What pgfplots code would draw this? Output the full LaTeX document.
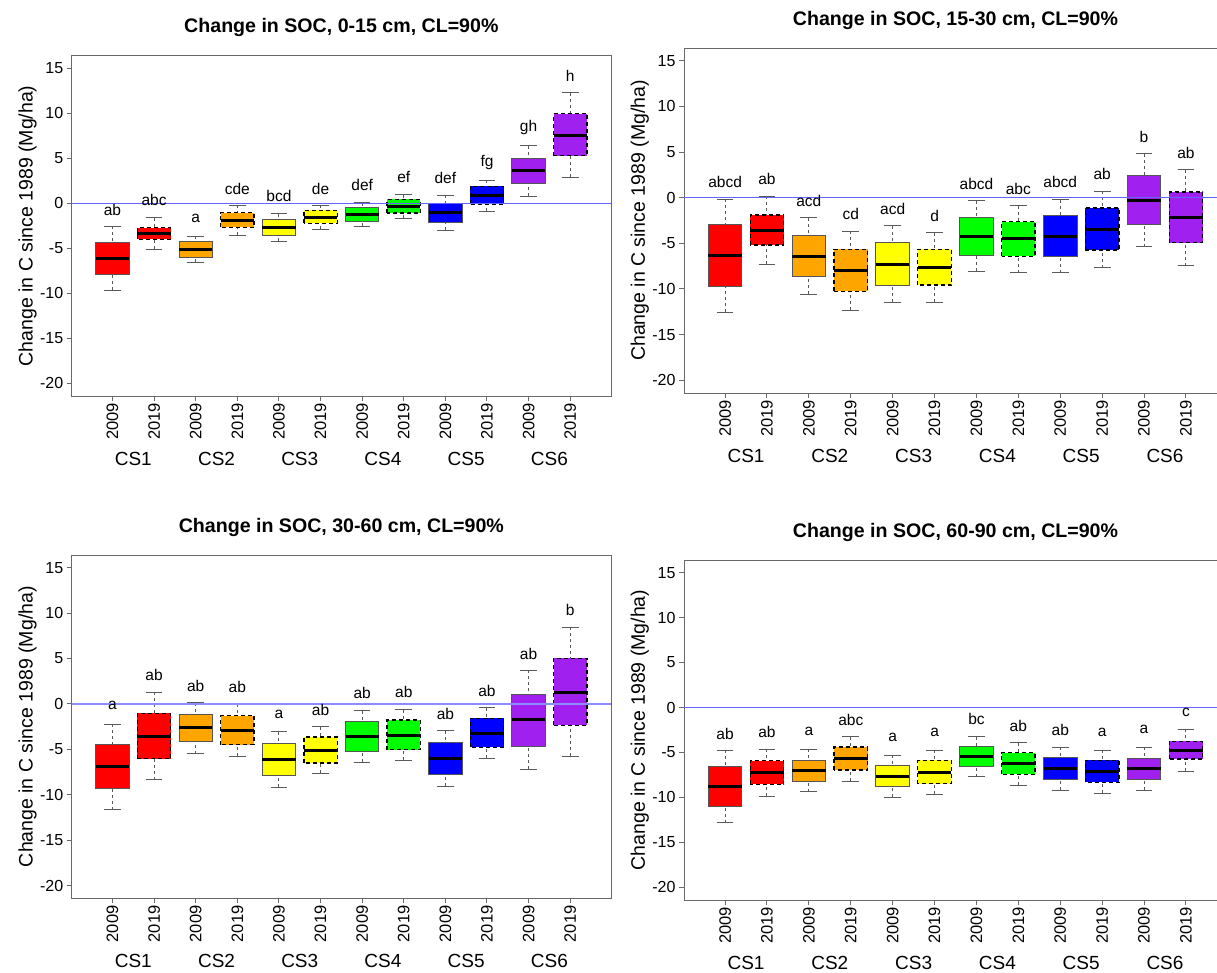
\documentclass[border=0pt]{standalone}
\usepackage{fontspec}
\setmainfont{Liberation Sans}
\usepackage{graphicx}
\usepackage{pgfplots}
\pgfplotsset{compat=1.18}
\usepgfplotslibrary{statistics}

\definecolor{cRed}{RGB}{255,0,0}
\definecolor{cOra}{RGB}{255,165,0}
\definecolor{cYel}{RGB}{255,255,0}
\definecolor{cGrn}{RGB}{0,255,0}
\definecolor{cBlu}{RGB}{0,0,255}
\definecolor{cPur}{RGB}{160,32,240}
\definecolor{frameg}{RGB}{105,105,105}
\definecolor{boxg}{RGB}{85,85,85}
\definecolor{whisk}{RGB}{90,90,90}
\definecolor{zeroline}{RGB}{100,100,255}
\definecolor{zerolineb}{RGB}{140,140,255}

\newcommand{\yr}[1]{\rotatebox{90}{#1}}

% solid (2009) box: pos, colour, lower whisker, lower quartile, median, upper quartile, upper whisker
\newcommand{\bxA}[7]{%
 \addplot[boxplot/every box/.style={fill=#2, draw=boxg, line width=1pt, solid},
   boxplot prepared={draw position=#1, lower whisker=#3, lower quartile=#4,
     median=#5, upper quartile=#6, upper whisker=#7, box extend=0.8, whisker extend=0.4}]
   coordinates {};}
% dashed (2019) box
\newcommand{\bxB}[7]{%
 \addplot[boxplot/every box/.style={fill=#2, draw=black, line width=1.3pt, dash pattern=on 4pt off 3pt},
   boxplot prepared={draw position=#1, lower whisker=#3, lower quartile=#4,
     median=#5, upper quartile=#6, upper whisker=#7, box extend=0.8, whisker extend=0.4}]
   coordinates {};}

\pgfplotsset{
 soc/.style={
  scale only axis, anchor=north west,
  xmin=0.02, xmax=12.98, ymin=-21.4, ymax=16.4,
  axis line style={frameg, line width=1pt},
  tick style={frameg, line width=1pt},
  tick align=outside, major tick length=5pt,
  xtick pos=left, ytick pos=left,
  xtick={1,...,12},
  xticklabels={\yr{2009},\yr{2019},\yr{2009},\yr{2019},\yr{2009},\yr{2019},\yr{2009},\yr{2019},\yr{2009},\yr{2019},\yr{2009},\yr{2019}},
  xticklabel style={font=\fontsize{16.5}{17}\selectfont, inner sep=2pt},
  ytick={-20,-15,...,15},
  yticklabel style={font=\fontsize{16}{17}\selectfont},
  /pgf/number format/assume math mode=true,
  extra x ticks={1.5,3.5,5.5,7.5,9.5,11.5},
  extra x tick labels={CS1,CS2,CS3,CS4,CS5,CS6},
  extra x tick style={major tick length=0pt, xticklabel style={font=\fontsize{19}{20}\selectfont, inner sep=0pt, yshift=-56pt}},
  ylabel={Change in C since 1989 (Mg/ha)},
  every axis y label/.style={at={(axis description cs:-0.0585,0.5)}, rotate=90, anchor=south, font=\fontsize{19.5}{21}\selectfont},
  every axis title/.style={at={(axis description cs:0.5,1)}, anchor=center, yshift=28pt, font=\bfseries\fontsize{19.6}{22}\selectfont},
  boxplot/draw direction=y,
  boxplot/every median/.style={draw=black, solid, line width=3pt},
  boxplot/draw/lower whisker/.code={%
    \draw[draw=whisk, line width=1pt, dash pattern=on 3pt off 3pt]
      (boxplot box cs:\pgfplotsboxplotvalue{lower whisker},0.5) -- (boxplot box cs:\pgfplotsboxplotvalue{lower quartile},0.5);
    \draw[draw=whisk, line width=1pt, solid]
      (boxplot whisker cs:\pgfplotsboxplotvalue{lower whisker},0) -- (boxplot whisker cs:\pgfplotsboxplotvalue{lower whisker},1);},
  boxplot/draw/upper whisker/.code={%
    \draw[draw=whisk, line width=1pt, dash pattern=on 3pt off 3pt]
      (boxplot box cs:\pgfplotsboxplotvalue{upper whisker},0.5) -- (boxplot box cs:\pgfplotsboxplotvalue{upper quartile},0.5);
    \draw[draw=whisk, line width=1pt, solid]
      (boxplot whisker cs:\pgfplotsboxplotvalue{upper whisker},0) -- (boxplot whisker cs:\pgfplotsboxplotvalue{upper whisker},1);},
 },
 letters/.style={draw=none, mark=none, nodes near coords, point meta=explicit symbolic,
   nodes near coords align=center,
   every node near coord/.style={anchor=center, font=\fontsize{15.5}{16}\selectfont, text=black}},
}

\pgfplotstableread{
x y l
1 -0.74 ab
2 0.33 abc
3 -1.67 a
4 1.59 cde
5 0.78 bcd
6 1.59 de
7 2.0 def
8 2.89 ef
9 2.78 def
10 4.56 fg
11 8.44 gh
12 14.19 h
}\labA
\pgfplotstableread{
x y l
1 1.75 abcd
2 2.0 ab
3 -0.36 acd
4 -1.79 cd
5 -1.28 acd
6 -2.0 d
7 1.53 abcd
8 0.98 abc
9 1.71 abcd
10 2.59 ab
11 6.70 b
12 4.88 ab
}\labB
\pgfplotstableread{
x y l
1 -0.18 a
2 3.16 ab
3 2.02 ab
4 1.87 ab
5 -1.10 a
6 -0.70 ab
7 1.18 ab
8 1.32 ab
9 -1.07 ab
10 1.47 ab
11 5.55 ab
12 10.39 b
}\labC
\pgfplotstableread{
x y l
1 -2.92 ab
2 -2.77 ab
3 -2.66 a
4 -1.33 abc
5 -3.29 a
6 -2.77 a
7 -1.22 bc
8 -2.00 ab
9 -2.52 ab
10 -2.81 a
11 -2.44 a
12 -0.52 c
}\labD

\begin{document}
\begin{tikzpicture}
\path[use as bounding box] (0,0) rectangle (1217pt,-972pt);
\fill[white] (0,0) rectangle (1217pt,-972pt);
\clip (0,0) rectangle (1217pt,-972pt);

% ---------- panel 1 ----------
\begin{axis}[soc, at={(71.7pt,-55.7pt)}, width=539.3pt, height=340.3pt,
  title={Change in SOC, 0-15 cm, CL=90\%}]
\bxA{1}{cRed}{-9.63}{-7.85}{-6.11}{-4.37}{-2.56}
\bxB{2}{cRed}{-5.11}{-4.00}{-3.30}{-2.70}{-1.59}
\bxA{3}{cOra}{-6.56}{-6.00}{-5.11}{-4.26}{-3.63}
\bxB{4}{cOra}{-3.52}{-2.67}{-1.89}{-1.04}{-0.22}
\bxA{5}{cYel}{-4.19}{-3.56}{-2.63}{-1.81}{-1.15}
\bxB{6}{cYel}{-2.85}{-2.22}{-1.52}{-0.78}{-0.22}
\bxA{7}{cGrn}{-2.56}{-2.00}{-1.19}{-0.48}{0.07}
\bxB{8}{cGrn}{-1.67}{-1.07}{-0.30}{0.44}{0.96}
\bxA{9}{cBlu}{-3.00}{-2.15}{-1.07}{-0.04}{0.89}
\bxB{10}{cBlu}{-0.89}{-0.11}{0.89}{1.89}{2.59}
\bxA{11}{cPur}{0.78}{2.22}{3.63}{5.00}{6.41}
\bxB{12}{cPur}{2.89}{5.30}{7.59}{9.96}{12.30}
\addplot[draw=zeroline, line width=1.2pt] coordinates {(0.02,0) (12.98,0)};
\addplot[letters] table[x=x, y=y, meta=l] {\labA};
\end{axis}

% ---------- panel 2 ----------
\begin{axis}[soc, at={(684pt,-48pt)}, width=543pt, height=345pt,
  every axis y label/.append style={at={(axis description cs:-0.058,0.5)}},
  title={Change in SOC, 15-30 cm, CL=90\%}]
\bxA{1}{cRed}{-12.57}{-9.73}{-6.34}{-2.95}{-0.15}
\bxB{2}{cRed}{-7.32}{-5.17}{-3.61}{-1.89}{0.18}
\bxA{3}{cOra}{-10.60}{-8.63}{-6.41}{-4.12}{-2.22}
\bxB{4}{cOra}{-12.31}{-10.27}{-7.98}{-5.65}{-3.68}
\bxA{5}{cYel}{-11.48}{-9.65}{-7.32}{-4.95}{-3.10}
\bxB{6}{cYel}{-11.48}{-9.58}{-7.61}{-5.65}{-3.83}
\bxA{7}{cGrn}{-8.05}{-6.34}{-4.23}{-2.15}{-0.36}
\bxB{8}{cGrn}{-8.20}{-6.41}{-4.52}{-2.62}{-0.87}
\bxA{9}{cBlu}{-8.23}{-6.45}{-4.23}{-2.00}{-0.22}
\bxB{10}{cBlu}{-7.65}{-5.72}{-3.46}{-1.13}{0.73}
\bxA{11}{cPur}{-5.39}{-2.95}{-0.29}{2.40}{4.81}
\bxB{12}{cPur}{-7.43}{-4.92}{-2.22}{0.62}{3.06}
\addplot[draw=zeroline, line width=1.2pt] coordinates {(0.02,0) (12.98,0)};
\addplot[letters] table[x=x, y=y, meta=l] {\labB};
\end{axis}

% ---------- panel 3 ----------
\begin{axis}[soc, at={(71.7pt,-555pt)}, width=539.3pt, height=343.3pt,
  title={Change in SOC, 30-60 cm, CL=90\%}]
\bxA{1}{cRed}{-11.64}{-9.36}{-6.90}{-4.44}{-2.24}
\bxB{2}{cRed}{-8.37}{-6.02}{-3.56}{-1.03}{1.29}
\bxA{3}{cOra}{-5.47}{-4.11}{-2.64}{-1.14}{0.11}
\bxB{4}{cOra}{-5.77}{-4.48}{-2.90}{-1.29}{0.00}
\bxA{5}{cYel}{-9.18}{-7.90}{-6.17}{-4.37}{-3.08}
\bxB{6}{cYel}{-7.64}{-6.50}{-5.10}{-3.64}{-2.53}
\bxA{7}{cGrn}{-6.43}{-5.21}{-3.60}{-1.95}{-0.73}
\bxB{8}{cGrn}{-6.21}{-5.03}{-3.45}{-1.76}{-0.62}
\bxA{9}{cBlu}{-9.07}{-7.75}{-5.99}{-4.22}{-2.94}
\bxB{10}{cBlu}{-5.99}{-4.77}{-3.20}{-1.58}{-0.40}
\bxA{11}{cPur}{-7.20}{-4.63}{-1.76}{1.03}{3.71}
\bxB{12}{cPur}{-5.77}{-2.35}{1.29}{5.03}{8.45}
\addplot[draw=zerolineb, line width=2pt] coordinates {(0.02,0) (12.98,0)};
\addplot[letters] table[x=x, y=y, meta=l] {\labC};
\end{axis}

% ---------- panel 4 ----------
\begin{axis}[soc, at={(684pt,-560pt)}, width=543pt, height=340pt,
  every axis y label/.append style={at={(axis description cs:-0.058,0.5)}},
  title={Change in SOC, 60-90 cm, CL=90\%}]
\bxA{1}{cRed}{-12.80}{-11.02}{-8.80}{-6.59}{-4.77}
\bxB{2}{cRed}{-9.88}{-8.55}{-7.25}{-5.92}{-4.66}
\bxA{3}{cOra}{-9.36}{-8.18}{-6.99}{-5.85}{-4.66}
\bxB{4}{cOra}{-8.21}{-6.96}{-5.70}{-4.40}{-3.26}
\bxA{5}{cYel}{-9.99}{-8.80}{-7.62}{-6.44}{-5.29}
\bxB{6}{cYel}{-9.62}{-8.47}{-7.21}{-5.88}{-4.77}
\bxA{7}{cGrn}{-7.70}{-6.59}{-5.40}{-4.37}{-3.26}
\bxB{8}{cGrn}{-8.66}{-7.44}{-6.25}{-5.03}{-3.92}
\bxA{9}{cBlu}{-9.17}{-7.99}{-6.77}{-5.55}{-4.44}
\bxB{10}{cBlu}{-9.54}{-8.33}{-7.14}{-5.88}{-4.74}
\bxA{11}{cPur}{-9.17}{-7.95}{-6.77}{-5.66}{-4.44}
\bxB{12}{cPur}{-7.10}{-5.73}{-4.77}{-3.74}{-2.44}
\addplot[draw=zeroline, line width=1.2pt] coordinates {(0.02,0) (12.98,0)};
\addplot[letters] table[x=x, y=y, meta=l] {\labD};
\end{axis}
\end{tikzpicture}
\end{document}
